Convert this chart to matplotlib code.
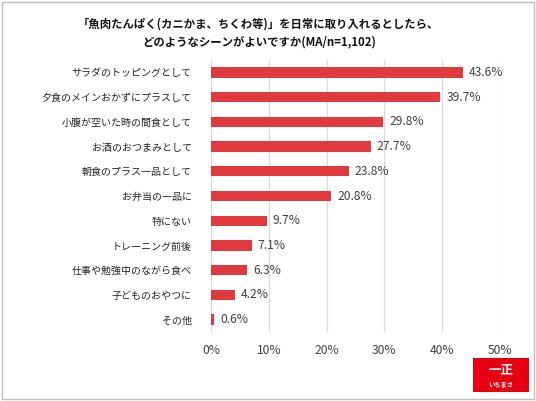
import matplotlib.pyplot as plt
from matplotlib.patches import Rectangle

plt.rcParams['font.family'] = ['Noto Sans CJK JP', 'DejaVu Sans']

categories = ['サラダのトッピングとして', '夕食のメインおかずにプラスして', '小腹が空いた時の間食として',
              'お酒のおつまみとして', '朝食のプラス一品として', 'お弁当の一品に', '特にない',
              'トレーニング前後', '仕事や勉強中のながら食べ', '子どものおやつに', 'その他']
values = [43.6, 39.7, 29.8, 27.7, 23.8, 20.8, 9.7, 7.1, 6.3, 4.2, 0.6]
ticks = [0, 10, 20, 30, 40, 50]

fig = plt.figure(figsize=(5.36, 4.01), dpi=100)
ax = fig.add_axes([211 / 536, 1 - 332 / 401, 289 / 536, 272 / 401])

y = list(range(len(categories)))
ax.barh(y, values, height=0.42, color='#E0393E', zorder=3)
for yi, v in zip(y, values):
    ax.text(v + 1.0, yi, f'{v:.1f}%', va='center', ha='left', fontsize=8.7, color='#404040')

ax.set_xlim(0, 50)
ax.set_ylim(len(categories) - 0.5, -0.5)
ax.set_xticks(ticks)
ax.set_xticklabels([f'{t}%' for t in ticks], fontsize=8.7, color='#404040')
ax.set_yticks(y)
ax.set_yticklabels(categories, fontsize=7.2, color='#222222')
ax.tick_params(axis='both', length=0)
ax.tick_params(axis='y', pad=14)
ax.tick_params(axis='x', pad=9)
ax.grid(axis='x', color='#D9D9D9', lw=0.9, zorder=0)
for s in ax.spines.values():
    s.set_visible(False)

fig.text(0.483, 1 - 24 / 401, '「魚肉たんぱく(カニかま、ちくわ等)」を日常に取り入れるとしたら、',
         ha='center', va='center', fontsize=8.2, fontweight='bold', color='#111111')
fig.text(0.483, 1 - 42 / 401, 'どのようなシーンがよいですか(MA/n=1,102)',
         ha='center', va='center', fontsize=8.2, fontweight='bold', color='#111111')

# frame
fig.patches.append(Rectangle((2 / 536, 2 / 401), 532 / 536, 397 / 401, transform=fig.transFigure,
                             fill=False, edgecolor='#BFBFBF', lw=1))

# logo
fig.patches.append(Rectangle((473 / 536, 1 - 392 / 401), 56 / 536, 34 / 401, transform=fig.transFigure,
                             facecolor='#E60012', edgecolor='none'))
fig.text(501 / 536, 1 - 370 / 401, '一正', ha='center', va='center', fontsize=9,
         fontweight='bold', color='white')
fig.text(501 / 536, 1 - 385 / 401, 'いちまさ', ha='center', va='center', fontsize=4.5,
         fontweight='bold', color='white')

fig.savefig('out.png', dpi=100)
